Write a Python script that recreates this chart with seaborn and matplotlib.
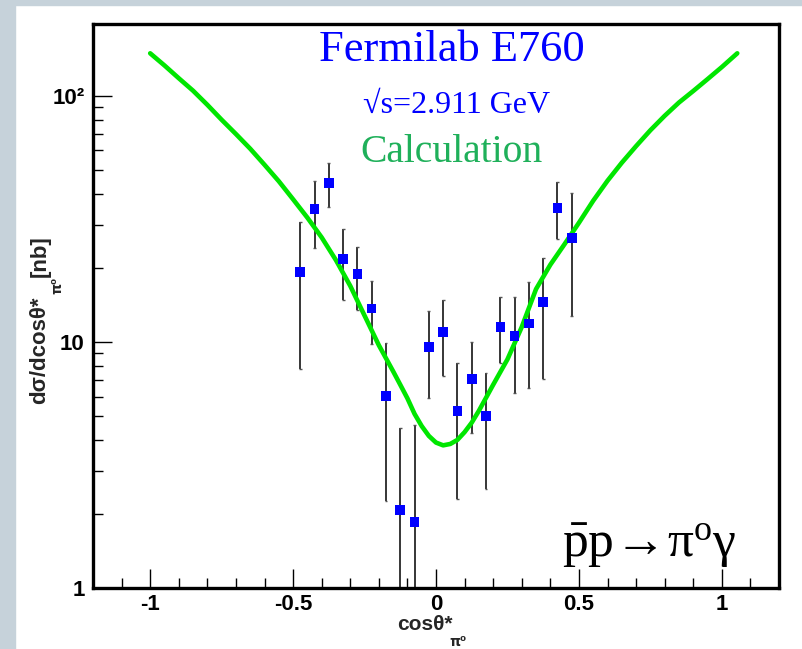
import matplotlib
matplotlib.use("Agg")
import matplotlib.pyplot as plt
from matplotlib.patches import Rectangle
from matplotlib.ticker import FixedLocator, FixedFormatter, NullFormatter
import seaborn as sns
import pandas as pd

# ---------------- data ----------------
cos_x = [-0.475, -0.425, -0.375, -0.325, -0.275, -0.225, -0.175, -0.125, -0.075, -0.025,
         0.025, 0.075, 0.125, 0.175, 0.225, 0.275, 0.325, 0.375, 0.425, 0.475]
xsec = [19.3, 34.7, 44.3, 21.7, 18.9, 13.7, 6.03, 2.08, 1.85, 9.55,
        11.0, 5.24, 7.08, 5.0, 11.5, 10.6, 11.9, 14.5, 35.1, 26.5]
xsec_hi = [30.7, 45.1, 53.4, 28.8, 24.3, 17.7, 9.9, 4.47, 4.6, 13.4,
           14.8, 8.2, 10.0, 7.48, 15.2, 15.2, 17.6, 21.9, 44.7, 40.2]
xsec_lo = [7.77, 24.1, 35.4, 14.8, 13.5, 9.8, 2.26, 0.5, 0.5, 5.9,
           7.3, 2.30, 4.27, 2.53, 8.2, 6.2, 6.5, 7.1, 26.1, 12.8]

calc_x = [-1.0, -0.95, -0.9, -0.85, -0.8, -0.75, -0.7, -0.65, -0.6, -0.55, -0.5,
          -0.45, -0.4, -0.35, -0.3, -0.25, -0.2, -0.15, -0.125, -0.1, -0.075, -0.05,
          -0.025, 0.0, 0.025, 0.05, 0.075, 0.1, 0.125, 0.15, 0.2, 0.25, 0.3, 0.35,
          0.4, 0.45, 0.5, 0.55, 0.6, 0.65, 0.7, 0.75, 0.8, 0.85, 0.9, 0.95, 1.0, 1.054]
calc_y = [149, 133, 118, 105, 92, 80, 70, 61, 52.5, 45, 38,
          32, 26.6, 21.5, 16.9, 12.8, 9.7, 7.6, 6.7, 5.9, 5.1, 4.55,
          4.15, 3.9, 3.8, 3.85, 4.0, 4.3, 4.7, 5.25, 6.7, 8.5, 11.5, 16.4,
          20.6, 25.0, 30.5, 37.5, 45.2, 53.5, 62.5, 72.5, 83, 94, 104.7, 117, 131, 149]

x_ticks = [-1, -0.5, 0, 0.5, 1]
x_tick_labels = ["-1", "-0.5", "0", "0.5", "1"]
y_ticks = [1, 10, 100]
y_tick_labels = ["1", "10", "10²"]

title_lines = ["Fermilab E760", "√s=2.911 GeV", "Calculation"]
reaction = r"$\mathrm{\bar{p}p}\!\rightarrow\!\mathrm{\pi^{o}\gamma}$"

# ---------------- style ----------------
sns.set_theme(style="ticks")
plt.rcParams["font.family"] = ["Liberation Sans", "DejaVu Sans"]
plt.rcParams["mathtext.fontset"] = "custom"
plt.rcParams["mathtext.rm"] = "Liberation Serif"
plt.rcParams["mathtext.it"] = "Liberation Serif"
plt.rcParams["mathtext.bf"] = "Liberation Serif:bold"

W, H = 802, 649
fig = plt.figure(figsize=(W / 100, H / 100), dpi=100, facecolor="white")
bg = "#c6d2da"
fig.patches.append(Rectangle((0, 0), 15 / W, 1, transform=fig.transFigure,
                             color=bg, zorder=0))
fig.patches.append(Rectangle((0, 1 - 5 / H), 1, 5 / H, transform=fig.transFigure,
                             color=bg, zorder=0))

ax = fig.add_axes([93 / W, 61 / H, 686 / W, 564 / H])
ax.set_facecolor("white")

curve = pd.DataFrame({"x": calc_x, "y": calc_y})
pts = pd.DataFrame({"x": cos_x, "y": xsec, "hi": xsec_hi, "lo": xsec_lo})

ax.vlines(pts["x"], pts["lo"], pts["hi"], color="black", lw=1.1, zorder=2)
ax.hlines(pts["hi"], pts["x"] - 0.005, pts["x"] + 0.005, color="#555555", lw=1.0, zorder=2)
ax.hlines(pts["lo"], pts["x"] - 0.005, pts["x"] + 0.005, color="#555555", lw=1.0, zorder=2)

sns.lineplot(data=curve, x="x", y="y", ax=ax, color="#00e600", lw=3.3, sort=False,
             estimator=None, zorder=3)
sns.scatterplot(data=pts, x="x", y="y", ax=ax, marker="s", s=48, color="#0000ff",
                edgecolor="none", zorder=4)

ax.set_yscale("log")
ax.set_xlim(-1.2, 1.2)
ax.set_ylim(1, 196)

ax.xaxis.set_major_locator(FixedLocator(x_ticks))
ax.xaxis.set_major_formatter(FixedFormatter(x_tick_labels))
ax.xaxis.set_minor_locator(FixedLocator([v / 10 for v in range(-12, 13)]))
ax.yaxis.set_major_locator(FixedLocator(y_ticks))
ax.yaxis.set_major_formatter(FixedFormatter(y_tick_labels))
ax.yaxis.set_minor_locator(FixedLocator([m * d for d in (1, 10, 100) for m in range(2, 10)]))
ax.yaxis.set_minor_formatter(NullFormatter())

ax.tick_params(axis="both", which="major", direction="in", length=14, width=1.0,
               color="black", labelsize=16, labelcolor="black")
ax.tick_params(axis="both", which="minor", direction="in", length=7, width=1.0, color="black")
ax.tick_params(axis="x", pad=4)
ax.tick_params(axis="y", pad=6)
for lab in ax.get_xticklabels() + ax.get_yticklabels():
    lab.set_fontweight("bold")
for s in ax.spines.values():
    s.set_linewidth(2.4)
    s.set_color("black")

ax.set_xlabel("")
ax.set_ylabel("")

# titles
ax.text(0.523, 0.934, title_lines[0], transform=ax.transAxes, ha="center", va="baseline",
        color="#0000ff", fontsize=32, family="Liberation Serif")
ax.text(0.530, 0.842, title_lines[1], transform=ax.transAxes, ha="center", va="baseline",
        color="#0000ff", fontsize=23, family=["Liberation Serif", "DejaVu Serif"])
ax.text(0.523, 0.755, title_lines[2], transform=ax.transAxes, ha="center", va="baseline",
        color="#1fb05a", fontsize=28.5, family="Liberation Serif")
ax.text(0.684, 0.055, reaction, transform=ax.transAxes, ha="left", va="baseline",
        color="black", fontsize=37)

# axis labels (ROOT-like pieces)
fig.text(425 / W, 1 - 625 / H, "cosθ*", ha="center", va="center", fontsize=15,
         fontweight="bold")
fig.text(458 / W, 1 - 642 / H, "π⁰", ha="center", va="center", fontsize=10,
         fontweight="bold", family=["DejaVu Sans"])
fig.text(40 / W, 1 - 350 / H, "dσ/dcosθ*", ha="center", va="center", rotation=90,
         fontsize=16, fontweight="bold")
fig.text(57 / W, 1 - 285 / H, "π⁰", ha="center", va="center", rotation=90,
         fontsize=10, fontweight="bold", family=["DejaVu Sans"])
fig.text(40 / W, 1 - 256 / H, "[nb]", ha="center", va="center", rotation=90,
         fontsize=16, fontweight="bold")

fig.savefig("out.png", dpi=100, facecolor="white")
